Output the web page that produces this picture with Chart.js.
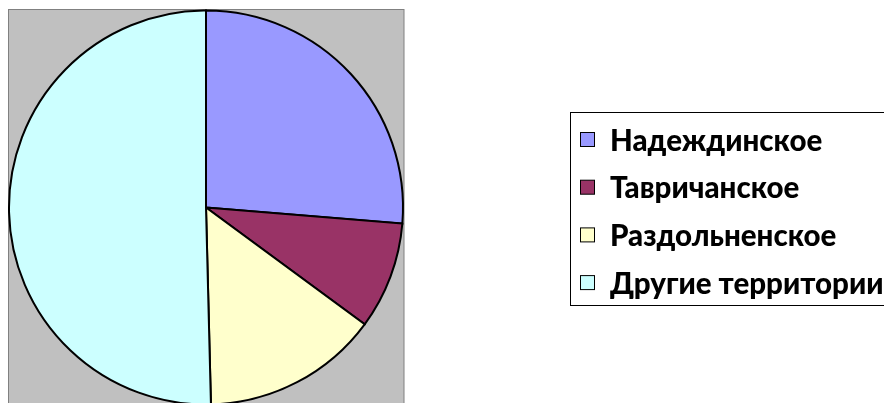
<!DOCTYPE html>
<html>
<head>
<meta charset="utf-8">
<script src="https://cdn.jsdelivr.net/npm/chart.js@4"></script>
<style>
  html, body { margin: 0; padding: 0; background: #fff; }
  #wrap { width: 884px; height: 403px; position: relative; }
</style>
</head>
<body>
<div id="wrap"><canvas id="chart-area" width="884" height="403"></canvas></div>
<script>
var labels = ['Надеждинское', 'Тавричанское', 'Раздольненское', 'Другие территории'];
var values = [26.3, 8.8, 14.5, 50.4];
var colors = ['#9999FF', '#993366', '#FFFFCC', '#CCFFFF'];

// grey plot area behind the pie
var plotBg = {
    id: 'plotBg',
    beforeDatasetsDraw: function(chart) {
        var ctx = chart.ctx;
        ctx.save();
        ctx.fillStyle = '#C0C0C0';
        ctx.fillRect(8.5, 9.5, 395.5, 400);
        ctx.strokeStyle = '#808080';
        ctx.lineWidth = 1;
        ctx.strokeRect(8.5, 9.5, 395.5, 400);
        ctx.restore();
    }
};

// legend in the style of the old office chart
var boxLegend = {
    id: 'boxLegend',
    afterDraw: function(chart) {
        var ctx = chart.ctx;
        var ds = chart.data.datasets[0];
        ctx.save();
        ctx.strokeStyle = '#000';
        ctx.lineWidth = 1;
        ctx.strokeRect(570.5, 112.5, 340, 193);
        ctx.font = '900 29.5px Lato, "Open Sans", sans-serif';
        ctx.textBaseline = 'middle';
        ctx.fillStyle = '#000';
        for (var i = 0; i < chart.data.labels.length; i++) {
            var y = 140 + i * 47.7;
            ctx.fillStyle = ds.backgroundColor[i];
            ctx.fillRect(580.5, y - 7.5, 14, 14);
            ctx.strokeRect(580.5, y - 7.5, 14, 14);
            ctx.fillStyle = '#000';
            ctx.fillText(chart.data.labels[i], 610, y + 1);
        }
        ctx.restore();
    }
};

var ctx = document.getElementById('chart-area').getContext('2d');
var config = {
    type: 'pie',
    data: {
        labels: labels,
        datasets: [{
            data: values,
            backgroundColor: colors,
            borderColor: '#000',
            borderWidth: 2,
            borderJoinStyle: 'miter',
            radius: 197
        }]
    },
    options: {
        responsive: false,
        animation: false,
        layout: { padding: { left: 9, right: 481, top: 12, bottom: 0 } },
        plugins: {
            legend: { display: false },
            tooltip: { enabled: false }
        }
    },
    plugins: [plotBg, boxLegend]
};
window.myPie = new Chart(ctx, config);
</script>
</body>
</html>
